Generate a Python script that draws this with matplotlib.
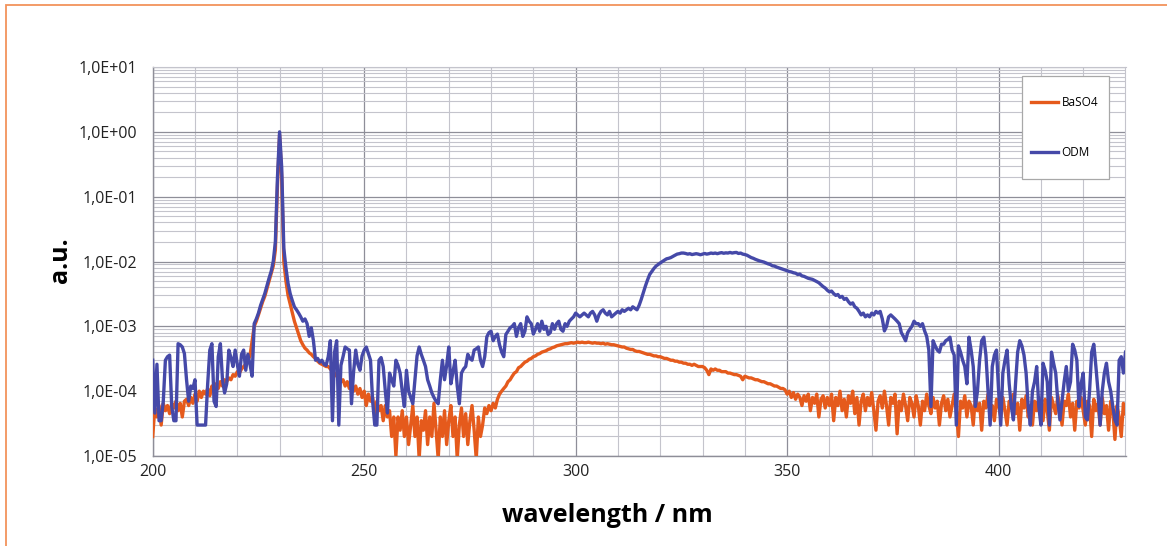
import numpy as np
import matplotlib
matplotlib.use("Agg")
import matplotlib.pyplot as plt
from matplotlib.ticker import FixedLocator, FuncFormatter, LogLocator, NullFormatter
from matplotlib.patches import Rectangle

# ---------------- data ----------------
wavelength = np.arange(200.0, 430.01, 0.5)   # nm, 0.5 nm sampling

baso4 = [
    # 200 - 209.5
    2e-5, 5.5e-5, 4e-5, 6e-5, 3e-5, 6.5e-5, 5e-5, 6e-5, 4.5e-5, 6.5e-5,
    5.5e-5, 7e-5, 5e-5, 6.5e-5, 4e-5, 7e-5, 7.5e-5, 6e-5, 8e-5, 6.5e-5,
    # 210 - 219.5
    9e-5, 7e-5, 1e-4, 8e-5, 1e-4, 9e-5, 1.1e-4, 8.5e-5, 1.2e-4, 1e-4,
    1.3e-4, 1.1e-4, 1.4e-4, 1.2e-4, 1.5e-4, 1.4e-4, 1.6e-4, 1.5e-4, 1.8e-4, 1.7e-4,
    # 220 - 229.5
    2e-4, 1.9e-4, 2.2e-4, 2.4e-4, 2.6e-4, 3e-4, 3.5e-4, 6e-4, 1e-3, 1.2e-3,
    1.5e-3, 1.9e-3, 2.4e-3, 2.9e-3, 3.8e-3, 5e-3, 6.5e-3, 8.5e-3, 1.5e-2, 0.15,
    # 230 - 239.5
    0.9, 0.2, 1e-2, 5e-3, 3e-3, 2.2e-3, 1.6e-3, 1.2e-3, 9.5e-4, 7.5e-4,
    6e-4, 5.2e-4, 4.6e-4, 4.3e-4, 3.9e-4, 3.7e-4, 3.4e-4, 3.2e-4, 2.9e-4, 2.7e-4,
    # 240 - 249.5
    2.6e-4, 2.5e-4, 2.4e-4, 2.4e-4, 2.2e-4, 2e-4, 1.9e-4, 1.7e-4, 1.6e-4, 1.4e-4,
    1.5e-4, 1.2e-4, 1.4e-4, 1.1e-4, 1.3e-4, 1e-4, 1.2e-4, 9e-5, 1.1e-4, 8e-5,
    # 250 - 259.5
    1e-4, 6e-5, 9e-5, 7e-5, 8e-5, 4.5e-5, 7e-5, 5e-5, 6e-5, 3.5e-5,
    6e-5, 4e-5, 5e-5, 2e-5, 4e-5, 1e-5, 4e-5, 2.5e-5, 5e-5, 2e-5,
    # 260 - 269.5
    4e-5, 1.5e-5, 3e-5, 6e-5, 2e-5, 4e-5, 9e-6, 3.5e-5, 2.5e-5, 5e-5,
    1.5e-5, 4e-5, 2e-5, 6.5e-5, 2.5e-5, 9e-6, 4e-5, 2e-5, 5e-5, 1.5e-5,
    # 270 - 279.5
    3.5e-5, 6e-5, 2e-5, 4e-5, 9e-6, 3e-5, 5.5e-5, 2e-5, 4.5e-5, 1.5e-5,
    3.5e-5, 6e-5, 2.5e-5, 9e-6, 4e-5, 2e-5, 3e-5, 5.5e-5, 4.5e-5, 6e-5,
    # 280 - 289.5
    5e-5, 6.5e-5, 5.5e-5, 7.5e-5, 9e-5, 1e-4, 1.1e-4, 1.2e-4, 1.4e-4, 1.5e-4,
    1.7e-4, 1.9e-4, 2e-4, 2.3e-4, 2.4e-4, 2.6e-4, 2.8e-4, 2.9e-4, 3.1e-4, 3.2e-4,
    # 290 - 299.5
    3.4e-4, 3.5e-4, 3.7e-4, 3.8e-4, 4e-4, 4.1e-4, 4.2e-4, 4.4e-4, 4.5e-4, 4.7e-4,
    4.8e-4, 5e-4, 5.1e-4, 5.2e-4, 5.3e-4, 5.4e-4, 5.4e-4, 5.5e-4, 5.6e-4, 5.5e-4,
    # 300 - 309.5
    5.6e-4, 5.7e-4, 5.6e-4, 5.7e-4, 5.6e-4, 5.6e-4, 5.7e-4, 5.6e-4, 5.5e-4, 5.6e-4,
    5.5e-4, 5.5e-4, 5.4e-4, 5.5e-4, 5.3e-4, 5.4e-4, 5.3e-4, 5.2e-4, 5.2e-4, 5.1e-4,
    # 310 - 319.5
    5e-4, 4.9e-4, 4.8e-4, 4.8e-4, 4.6e-4, 4.5e-4, 4.4e-4, 4.4e-4, 4.2e-4, 4.1e-4,
    4.1e-4, 4e-4, 3.9e-4, 3.8e-4, 3.7e-4, 3.7e-4, 3.6e-4, 3.5e-4, 3.5e-4, 3.4e-4,
    # 320 - 329.5
    3.4e-4, 3.3e-4, 3.2e-4, 3.2e-4, 3.1e-4, 3e-4, 3e-4, 2.9e-4, 2.9e-4, 2.8e-4,
    2.8e-4, 2.7e-4, 2.7e-4, 2.6e-4, 2.6e-4, 2.5e-4, 2.6e-4, 2.5e-4, 2.4e-4, 2.4e-4,
    # 330 - 339.5
    2.4e-4, 2.3e-4, 2.1e-4, 1.8e-4, 2.2e-4, 2.1e-4, 2.2e-4, 2.1e-4, 2.1e-4, 2e-4,
    2e-4, 2e-4, 1.9e-4, 1.9e-4, 1.85e-4, 1.8e-4, 1.8e-4, 1.75e-4, 1.7e-4, 1.5e-4,
    # 340 - 349.5
    1.7e-4, 1.65e-4, 1.6e-4, 1.6e-4, 1.55e-4, 1.5e-4, 1.5e-4, 1.45e-4, 1.4e-4, 1.4e-4,
    1.35e-4, 1.3e-4, 1.3e-4, 1.25e-4, 1.2e-4, 1.2e-4, 1.15e-4, 1.1e-4, 1.1e-4, 1.05e-4,
    # 350 - 359.5
    9e-5, 1e-4, 8e-5, 9.5e-5, 7.5e-5, 9e-5, 8e-5, 6e-5, 8.5e-5, 7e-5,
    9e-5, 5e-5, 8e-5, 6.5e-5, 9e-5, 4e-5, 7.5e-5, 8.5e-5, 5.5e-5, 8e-5,
    # 360 - 369.5
    6e-5, 9e-5, 3.5e-5, 8e-5, 6e-5, 1e-4, 5e-5, 7.5e-5, 4e-5, 8.5e-5,
    6.5e-5, 1e-4, 4.5e-5, 8e-5, 3e-5, 7e-5, 9e-5, 5e-5, 8e-5, 6e-5,
    # 370 - 379.5
    9.5e-5, 5e-5, 2.5e-5, 7e-5, 8.5e-5, 5.5e-5, 1e-4, 6e-5, 3e-5, 8e-5,
    6.5e-5, 9e-5, 2.2e-5, 7e-5, 5e-5, 9e-5, 6e-5, 3.5e-5, 8e-5, 6.5e-5,
    # 380 - 389.5
    4e-5, 8.5e-5, 6e-5, 3e-5, 7e-5, 5e-5, 9e-5, 6e-5, 4.5e-5, 8e-5,
    5.5e-5, 7e-5, 3e-5, 6.5e-5, 8.5e-5, 5e-5, 7.5e-5, 4e-5, 6e-5, 9e-5,
    # 390 - 399.5
    5e-5, 2e-5, 7e-5, 5.5e-5, 8.5e-5, 4e-5, 7e-5, 6e-5, 3e-5, 8e-5,
    5e-5, 6.5e-5, 2.5e-5, 7e-5, 5.5e-5, 9e-5, 4.5e-5, 6e-5, 3.5e-5, 7.5e-5,
    # 400 - 409.5
    6e-5, 4e-5, 8e-5, 5e-5, 3e-5, 7e-5, 6e-5, 9e-5, 4.5e-5, 6.5e-5,
    2.5e-5, 7.5e-5, 5.5e-5, 8.5e-5, 4e-5, 6e-5, 3e-5, 7e-5, 5e-5, 8e-5,
    # 410 - 419.5
    6e-5, 3.5e-5, 7.5e-5, 5e-5, 2.5e-5, 8e-5, 6e-5, 4.5e-5, 8.5e-5, 5.5e-5,
    3e-5, 7e-5, 6e-5, 9e-5, 4e-5, 6.5e-5, 2.5e-5, 7e-5, 5.5e-5, 8e-5,
    # 420 - 430
    5e-5, 3e-5, 7e-5, 6e-5, 2e-5, 7.5e-5, 5e-5, 6.5e-5, 3e-5, 8e-5,
    4.5e-5, 6e-5, 2.5e-5, 7e-5, 5e-5, 1.8e-5, 6e-5, 4e-5, 2e-5, 6.5e-5,
    4.5e-5,
]

odm = [
    # 200 - 209.5
    3e-4, 4.6e-5, 2.6e-4, 3.5e-5, 3.5e-5, 7e-5, 3e-4, 3.4e-4, 3.6e-4, 5.8e-5,
    3.5e-5, 3.5e-5, 5.4e-4, 5.2e-4, 4.8e-4, 3.8e-4, 1.5e-4, 7e-5, 1.2e-4, 1.1e-4,
    # 210 - 219.5
    1.5e-4, 3e-5, 3e-5, 3e-5, 3e-5, 3e-5, 1.3e-4, 4.3e-4, 5.4e-4, 7e-5,
    5.8e-5, 3.4e-4, 5.4e-4, 1.5e-4, 9.4e-5, 1.3e-4, 4.3e-4, 3.3e-4, 2.4e-4, 4.3e-4,
    # 220 - 229.5
    2.6e-4, 1.7e-4, 3.7e-4, 4.3e-4, 2.1e-4, 3.7e-4, 2.6e-4, 1.7e-4, 1.1e-3, 1.3e-3,
    1.6e-3, 2.1e-3, 2.6e-3, 3.2e-3, 4.2e-3, 5.5e-3, 7e-3, 1e-2, 2e-2, 0.2,
    # 230 - 239.5
    1.0, 0.28, 1.6e-2, 8e-3, 4.6e-3, 3.2e-3, 2.5e-3, 2e-3, 1.8e-3, 1.6e-3,
    1.4e-3, 1.2e-3, 1.3e-3, 1.1e-3, 7e-4, 9.5e-4, 6e-4, 3e-4, 3.2e-4, 2.8e-4,
    # 240 - 249.5
    3e-4, 2.6e-4, 2.5e-4, 3.4e-4, 6e-4, 3.5e-5, 4e-4, 6e-4, 3e-5, 2.5e-4,
    3.4e-4, 4.8e-4, 4.5e-4, 4.3e-4, 6.4e-5, 2e-4, 4.3e-4, 2.6e-4, 2.1e-4, 3.5e-4,
    # 250 - 259.5
    4.3e-4, 4.8e-4, 3.8e-4, 3e-4, 7e-5, 3e-5, 3e-5, 3e-4, 3.3e-4, 2.4e-4,
    1e-4, 4.6e-5, 1.9e-4, 1.5e-4, 1.2e-4, 3e-4, 2.5e-4, 1.9e-4, 1e-4, 5.8e-5,
    # 260 - 269.5
    2.1e-4, 1e-4, 8e-5, 6.4e-5, 1.5e-4, 3.5e-4, 4.8e-4, 3.7e-4, 3e-4, 2.4e-4,
    1.5e-4, 1.2e-4, 9.4e-5, 8e-5, 7e-5, 6.4e-5, 1.5e-4, 3e-4, 1.5e-4, 2.5e-4,
    # 270 - 279.5
    4.8e-4, 1.3e-4, 2e-4, 3e-4, 1.2e-4, 6.4e-5, 1.9e-4, 2.2e-4, 2.4e-4, 3.7e-4,
    3.2e-4, 3e-4, 4.3e-4, 4.5e-4, 4.8e-4, 3e-4, 2.4e-4, 3.4e-4, 6.9e-4, 8e-4,
    # 280 - 289.5
    8.4e-4, 6e-4, 7e-4, 7.6e-4, 5.2e-4, 4e-4, 3.4e-4, 7.5e-4, 8.4e-4, 9.5e-4,
    1e-3, 1.1e-3, 7e-4, 9.5e-4, 1.1e-3, 7e-4, 8.4e-4, 1.4e-3, 1.2e-3, 1.1e-3,
    # 290 - 299.5
    7.6e-4, 9e-4, 1.1e-3, 8.4e-4, 1.2e-3, 9e-4, 1e-3, 7.5e-4, 8e-4, 1.1e-3,
    9e-4, 1.1e-3, 1.2e-3, 9e-4, 8.4e-4, 1.1e-3, 1e-3, 1.2e-3, 1.3e-3, 1.4e-3,
    # 300 - 309.5
    1.6e-3, 1.5e-3, 1.4e-3, 1.5e-3, 1.6e-3, 1.5e-3, 1.4e-3, 1.6e-3, 1.7e-3, 1.5e-3,
    1.2e-3, 1.5e-3, 1.7e-3, 1.8e-3, 1.6e-3, 1.5e-3, 1.7e-3, 1.4e-3, 1.5e-3, 1.6e-3,
    # 310 - 319.5
    1.7e-3, 1.6e-3, 1.8e-3, 1.7e-3, 1.8e-3, 1.9e-3, 1.8e-3, 2e-3, 1.9e-3, 1.8e-3,
    2.1e-3, 2.6e-3, 3.3e-3, 4.2e-3, 5.2e-3, 6.3e-3, 7e-3, 7.8e-3, 8.5e-3, 9e-3,
    # 320 - 329.5
    9.5e-3, 1e-2, 1.05e-2, 1.1e-2, 1.12e-2, 1.15e-2, 1.2e-2, 1.25e-2, 1.3e-2, 1.32e-2,
    1.35e-2, 1.35e-2, 1.33e-2, 1.3e-2, 1.32e-2, 1.28e-2, 1.3e-2, 1.32e-2, 1.3e-2, 1.27e-2,
    # 330 - 339.5
    1.3e-2, 1.33e-2, 1.3e-2, 1.32e-2, 1.35e-2, 1.33e-2, 1.35e-2, 1.32e-2, 1.35e-2, 1.37e-2,
    1.34e-2, 1.36e-2, 1.35e-2, 1.38e-2, 1.35e-2, 1.37e-2, 1.38e-2, 1.33e-2, 1.35e-2, 1.3e-2,
    # 340 - 349.5
    1.28e-2, 1.25e-2, 1.2e-2, 1.15e-2, 1.12e-2, 1.08e-2, 1.05e-2, 1.02e-2, 1e-2, 9.8e-3,
    9.5e-3, 9.2e-3, 9e-3, 8.6e-3, 8.5e-3, 8.2e-3, 8e-3, 7.8e-3, 7.6e-3, 7.4e-3,
    # 350 - 359.5
    7.2e-3, 7e-3, 6.9e-3, 6.7e-3, 6.6e-3, 6.3e-3, 6.4e-3, 6e-3, 5.9e-3, 5.7e-3,
    5.5e-3, 5.4e-3, 5.3e-3, 5.1e-3, 4.9e-3, 4.7e-3, 4.4e-3, 4.1e-3, 3.9e-3, 3.6e-3,
    # 360 - 369.5
    3.4e-3, 3.5e-3, 3.2e-3, 3e-3, 3.1e-3, 2.8e-3, 2.9e-3, 2.6e-3, 2.7e-3, 2.4e-3,
    2.2e-3, 2.3e-3, 2e-3, 1.9e-3, 1.7e-3, 1.5e-3, 1.6e-3, 1.4e-3, 1.5e-3, 1.4e-3,
    # 370 - 379.5
    1.6e-3, 1.5e-3, 1.7e-3, 1.6e-3, 1.7e-3, 1.3e-3, 8.5e-4, 1e-3, 1.4e-3, 1.5e-3,
    1.4e-3, 1.3e-3, 1.2e-3, 1.1e-3, 8e-4, 7e-4, 6e-4, 8e-4, 9e-4, 1e-3,
    # 380 - 389.5
    1.2e-3, 1.1e-3, 1.1e-3, 1e-3, 1.1e-3, 8.5e-4, 7e-4, 4.3e-4, 5.8e-5, 6e-4,
    5e-4, 4.3e-4, 4e-4, 5.3e-4, 5.3e-4, 6e-4, 6.3e-4, 6.8e-4, 4.3e-4, 3.6e-4,
    # 390 - 399.5
    3e-5, 5e-4, 4e-4, 3e-4, 2.4e-4, 1.3e-4, 6.8e-4, 4.3e-4, 2.4e-4, 5.8e-5,
    1e-4, 3e-4, 6e-4, 6.8e-4, 3.6e-4, 1e-4, 3e-5, 2.4e-4, 3.6e-4, 4.3e-4,
    # 400 - 409.5
    1e-4, 3e-5, 1.9e-4, 3e-4, 4.3e-4, 1.3e-4, 5.8e-5, 3.6e-5, 1.3e-4, 4e-4,
    6e-4, 5e-4, 3.6e-4, 1.9e-4, 5.8e-5, 3e-5, 1e-4, 1.4e-4, 2.4e-4, 5.8e-5,
    # 410 - 419.5
    3e-5, 2.7e-4, 2.1e-4, 1.4e-4, 3e-5, 4e-4, 2.7e-4, 1.9e-4, 7e-5, 3.6e-5,
    7e-5, 1.4e-4, 2.4e-4, 1e-4, 1.4e-4, 5.3e-4, 4.3e-4, 3e-4, 5.8e-5, 1.3e-4,
    # 420 - 430
    1.9e-4, 4e-5, 3.6e-5, 1e-4, 4e-4, 5.3e-4, 2.4e-4, 1e-4, 3e-5, 1e-4,
    1.9e-4, 2.7e-4, 1.4e-4, 1e-4, 5.8e-5, 3.6e-5, 3e-5, 3e-4, 3.4e-4, 1.9e-4,
    4e-4,
]

series_labels = ["BaSO4", "ODM"]
x_ticks = [200, 250, 300, 350, 400]
y_ticks = [1e-5, 1e-4, 1e-3, 1e-2, 1e-1, 1e0, 1e1]
x_label = "wavelength / nm"
y_label = "a.u."

# ---------------- styling ----------------
C_BASO4 = "#E55A1C"
C_ODM = "#4549A8"
FONT = ["Open Sans", "DejaVu Sans"]
plt.rcParams["font.family"] = FONT

W, H = 1167, 546
fig = plt.figure(figsize=(W / 100, H / 100), dpi=100)
fig.patch.set_facecolor("white")

def fx(px):
    return px / W

def fy(py):
    return 1 - py / H

ax_l, ax_r, ax_t, ax_b = 152.7, 1125.5, 67.0, 456.0
ax = fig.add_axes([fx(ax_l), fy(ax_b), fx(ax_r - ax_l), (ax_b - ax_t) / H])

ax.plot(wavelength, baso4, color=C_BASO4, lw=2.4, label=series_labels[0], zorder=3)
ax.plot(wavelength, odm, color=C_ODM, lw=2.4, label=series_labels[1], zorder=4)

ax.set_yscale("log")
ax.set_xlim(200, 430)
ax.set_ylim(1e-5, 1e1)

ax.xaxis.set_major_locator(FixedLocator(x_ticks))
ax.xaxis.set_minor_locator(FixedLocator(np.arange(200, 431, 10)))
ax.yaxis.set_major_locator(FixedLocator(y_ticks))
ax.yaxis.set_minor_locator(LogLocator(base=10, subs=np.arange(2, 10), numticks=20))
ax.yaxis.set_minor_formatter(NullFormatter())

def yfmt(v, pos):
    e = int(round(np.log10(v)))
    return "1,0E%s%02d" % ("+" if e >= 0 else "-", abs(e))

ax.yaxis.set_major_formatter(FuncFormatter(yfmt))

ax.grid(True, which="major", axis="both", color="#8E8E98", lw=0.9, zorder=0)
ax.grid(True, which="minor", axis="both", color="#C4C4CC", lw=0.8, zorder=0)
ax.set_axisbelow(True)

ax.tick_params(which="both", length=0)
ax.tick_params(axis="y", pad=11, labelsize=11.5, colors="#222222")
ax.tick_params(axis="x", pad=6, labelsize=11.5, colors="#222222")

for side in ["top", "right"]:
    ax.spines[side].set_color("#C4C4CC")
    ax.spines[side].set_linewidth(0.8)
for side in ["left", "bottom"]:
    ax.spines[side].set_color("#8E8E98")
    ax.spines[side].set_linewidth(1.0)

ax.set_xlabel(x_label, fontsize=18, fontweight="bold", va="center")
ax.xaxis.set_label_coords((607 - ax_l) / (ax_r - ax_l), -(516 - ax_b) / (ax_b - ax_t))
ax.set_ylabel(y_label, fontsize=18, fontweight="bold", va="center")
ax.yaxis.set_label_coords((61 - ax_l) / (ax_r - ax_l), (ax_b - 260) / (ax_b - ax_t))

# legend box
fig.patches.append(Rectangle((fx(1022), fy(179)), fx(1109 - 1022), (179 - 76) / H,
                             transform=fig.transFigure, facecolor="white",
                             edgecolor="#A8A8A8", lw=0.9, zorder=5))
leg = fig.legend(loc="center left", bbox_to_anchor=(fx(1031), fy(127.5)),
                 frameon=False, fontsize=8.5, handlelength=2.3, handletextpad=0.3,
                 labelspacing=3.1, borderpad=0, borderaxespad=0)
leg.set_zorder(6)

# outer frame (left and top visible)
fig.patches.append(Rectangle((fx(6), -0.05), 1.2, fy(5) + 0.05,
                             transform=fig.transFigure, fill=False,
                             edgecolor="#F2935C", lw=1.3, zorder=0))

fig.savefig("out.png", dpi=100, facecolor="white")
